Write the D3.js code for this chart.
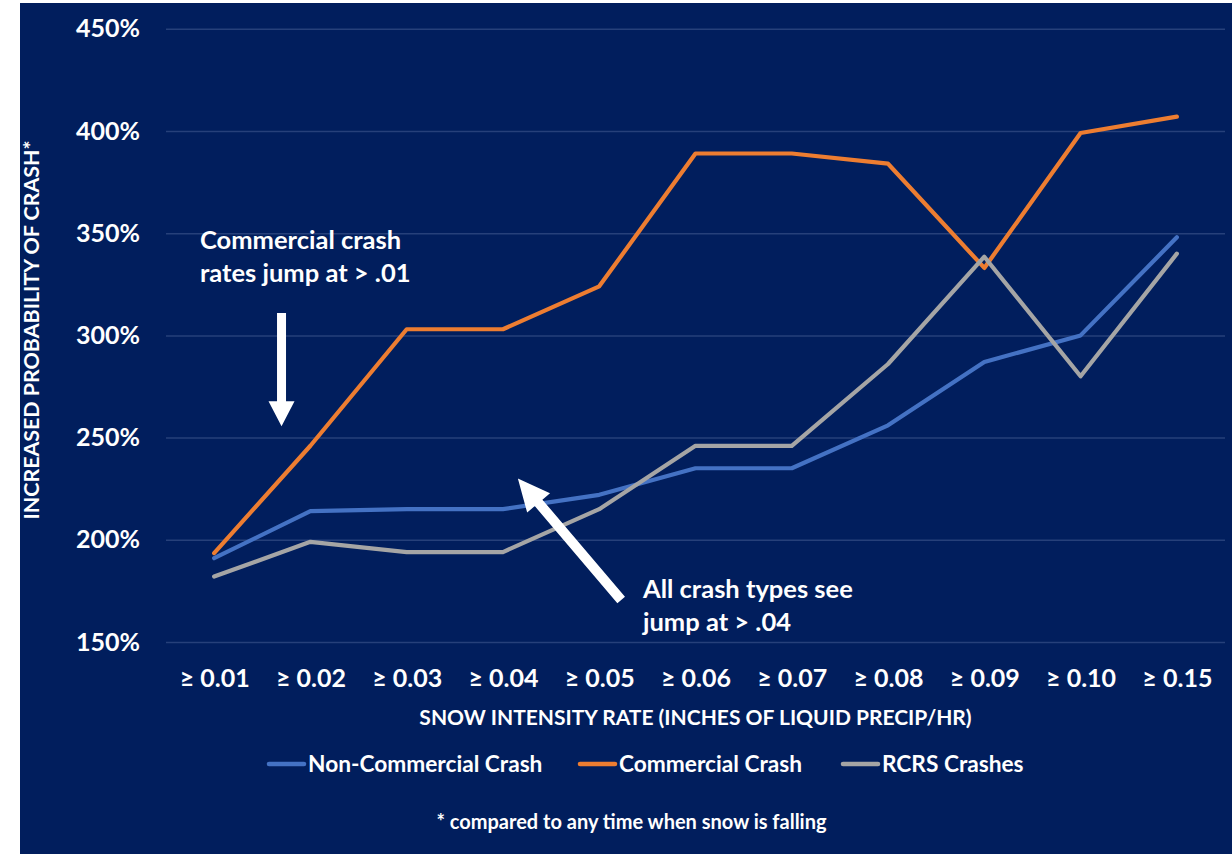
<!DOCTYPE html>
<html>
<head>
<meta charset="utf-8">
<script src="https://cdnjs.cloudflare.com/ajax/libs/d3/7.8.5/d3.min.js"></script>
<style>
  html, body { margin: 0; padding: 0; background: #ffffff; }
  svg { display: block; }
  text { font-family: Lato, "Open Sans", sans-serif; font-weight: bold; fill: #ffffff; }
</style>
</head>
<body>
<svg id="chart" width="1232" height="854"></svg>
<script>
const categories = ["≥ 0.01", "≥ 0.02", "≥ 0.03", "≥ 0.04", "≥ 0.05", "≥ 0.06", "≥ 0.07", "≥ 0.08", "≥ 0.09", "≥ 0.10", "≥ 0.15"];
const nonCommercial = [191, 214, 215, 215, 222, 235, 235, 256, 287, 300, 348];
const commercial = [193.5, 246, 303, 303, 324, 389, 389, 384, 333, 399, 407];
const rcrs = [182, 199, 194, 194, 215, 246, 246, 286, 338.5, 280, 340];
const yTicks = [150, 200, 250, 300, 350, 400, 450];
const seriesNames = ["Non-Commercial Crash", "Commercial Crash", "RCRS Crashes"];
const seriesColors = ["#4472c4", "#ed7d31", "#a5a5a5"];

const svg = d3.select("#chart");
const W = 1232, H = 854;

// background panel
svg.append("rect").attr("x", 20).attr("y", 3).attr("width", W - 20).attr("height", H - 3).attr("fill", "#011e5d");

const plot = { left: 166, right: 1225, top: 28.8, bottom: 642 };
const x = d3.scalePoint().domain(categories).range([plot.left, plot.right]).padding(0.5);
const y = d3.scaleLinear().domain([150, 450]).range([plot.bottom, plot.top]);

// gridlines
const grid = svg.append("g").attr("transform", `translate(${plot.left},0)`)
  .call(d3.axisLeft(y).tickValues(yTicks).tickSize(-(plot.right - plot.left)).tickFormat(""));
grid.select(".domain").remove();
grid.selectAll("line").attr("stroke", "#26407a").attr("stroke-width", 1.5);

// y axis labels
const yAx = svg.append("g").attr("transform", `translate(${plot.left},0)`)
  .call(d3.axisLeft(y).tickValues(yTicks).tickSize(0).tickPadding(26).tickFormat(d => d + "%"));
yAx.select(".domain").remove();
yAx.selectAll("text").style("font-size", "25px").style("font-family", "Lato, sans-serif").style("font-weight", "bold").attr("fill", "#ffffff");

// x axis labels
const xAx = svg.append("g").attr("transform", `translate(0,${plot.bottom})`)
  .call(d3.axisBottom(x).tickSize(0).tickPadding(27));
xAx.select(".domain").remove();
xAx.selectAll("text").style("font-size", "25px").style("font-family", "Lato, sans-serif").style("font-weight", "bold").attr("fill", "#ffffff");

// axis titles
svg.append("text").attr("x", 695.5).attr("y", 724.5)
  .attr("text-anchor", "middle").style("font-size", "21px")
  .text("SNOW INTENSITY RATE (INCHES OF LIQUID PRECIP/HR)");
svg.append("text").attr("transform", `translate(39,330) rotate(-90)`)
  .attr("text-anchor", "middle").style("font-size", "21.4px")
  .text("INCREASED PROBABILITY OF CRASH*");

// lines
const seriesData = [nonCommercial, commercial, rcrs];
const line = d3.line().x((d, i) => x(categories[i])).y(d => y(d));
[0, 1, 2].forEach(k => {
  svg.append("path").datum(seriesData[k]).attr("d", line)
    .attr("fill", "none").attr("stroke", seriesColors[k]).attr("stroke-width", 4.2)
    .attr("stroke-linejoin", "round").attr("stroke-linecap", "round");
});

// arrows (annotations)
function arrow(x1, y1, x2, y2, shaft, headW, headL) {
  const dx = x2 - x1, dy = y2 - y1, L = Math.hypot(dx, dy);
  const ux = dx / L, uy = dy / L, px = -uy, py = ux;
  const bx = x2 - ux * headL, by = y2 - uy * headL;
  const pts = [
    [x1 + px * shaft / 2, y1 + py * shaft / 2],
    [bx + px * shaft / 2, by + py * shaft / 2],
    [bx + px * headW / 2, by + py * headW / 2],
    [x2, y2],
    [bx - px * headW / 2, by - py * headW / 2],
    [bx - px * shaft / 2, by - py * shaft / 2],
    [x1 - px * shaft / 2, y1 - py * shaft / 2]
  ];
  svg.append("path").attr("d", "M" + pts.map(p => p.join(",")).join("L") + "Z").attr("fill", "#ffffff");
}
const step = x.step();
arrow(x(categories[1]) - 0.3 * step, y(311), x(categories[1]) - 0.3 * step, y(255.5), 9, 26, 25);
arrow(x(categories[4]) + 0.228 * step, y(170.5), x(categories[3]) + 0.155 * step, y(230), 10, 30, 32);

// annotation texts
const ann1 = svg.append("text").style("font-size", "25.5px");
ann1.append("tspan").attr("x", 200).attr("y", y(342.5)).text("Commercial crash");
ann1.append("tspan").attr("x", 200).attr("y", y(326)).text("rates jump at > .01");
const ann2 = svg.append("text").style("font-size", "25.5px");
ann2.append("tspan").attr("x", 643).attr("y", y(171.5)).text("All crash types see");
ann2.append("tspan").attr("x", 643).attr("y", y(155.5)).text("jump at > .04");

// legend
const legendX = [269, 580, 843];
seriesNames.forEach((n, i) => {
  const g = svg.append("g").attr("transform", `translate(${legendX[i]},764)`);
  g.append("line").attr("x1", 0).attr("x2", 35).attr("y1", 0).attr("y2", 0)
    .attr("stroke", seriesColors[i]).attr("stroke-width", 4.5).attr("stroke-linecap", "round");
  g.append("text").attr("x", 39).attr("y", 0).attr("dy", "0.35em").style("font-size", "22.7px").text(n);
});

// footnote
svg.append("text").attr("x", 631.5).attr("y", 829).attr("text-anchor", "middle").style("font-size", "20px")
  .text("* compared to any time when snow is falling");
</script>
</body>
</html>
